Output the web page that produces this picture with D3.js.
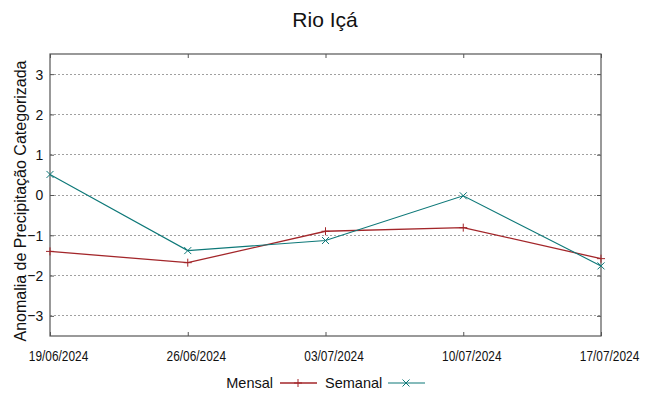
<!DOCTYPE html>
<html><head><meta charset="utf-8">
<script src="https://cdn.jsdelivr.net/npm/d3@7"></script>
<style>body{margin:0;background:#fff}svg{display:block;font-family:"Liberation Sans",Arial,sans-serif}</style>
</head><body><svg id="c" width="649" height="396"></svg>
<script>
const dates = ["19/06/2024","26/06/2024","03/07/2024","10/07/2024","17/07/2024"];
const mensal = [-1.40,-1.68,-0.90,-0.81,-1.58];
const semanal = [0.51,-1.38,-1.13,-0.02,-1.76];
const yTicks = [-3,-2,-1,0,1,2,3];

const svg = d3.select("#c");
const L=50,R=601,T=54,B=336;
const x = d3.scalePoint().domain(dates).range([L,R]);
const y = d3.scaleLinear().domain([-3.5,3.5]).range([B,T]);

// grid
svg.append("g").selectAll("line").data(yTicks).join("line")
 .attr("x1",L).attr("x2",R).attr("y1",d=>y(d)).attr("y2",d=>y(d))
 .attr("stroke","#a0a0a0").attr("stroke-width",1).attr("stroke-dasharray","2,2").attr("shape-rendering","crispEdges");

// axes
const yAxL = svg.append("g").attr("transform",`translate(${L},0)`)
 .call(d3.axisLeft(y).tickValues(yTicks).tickSize(-4).tickPadding(7.5).tickFormat(d3.format("d")));
const yAxR = svg.append("g").attr("transform",`translate(${R},0)`)
 .call(d3.axisRight(y).tickValues(yTicks).tickSize(-4).tickFormat(""));
const xAxB = svg.append("g").attr("transform",`translate(0,${B})`)
 .call(d3.axisBottom(x).tickSize(-4).tickPadding(15));
const xAxT = svg.append("g").attr("transform",`translate(0,${T})`)
 .call(d3.axisTop(x).tickSize(-4).tickFormat(""));
[yAxL,yAxR,xAxB,xAxT].forEach(g=>{g.select(".domain").remove();g.selectAll("line").attr("stroke","#555");});
yAxL.selectAll("text").attr("font-size",15.5).attr("fill","#111").attr("font-family","Liberation Sans, Arial")
 .attr("transform","scale(0.9,1)");
xAxB.selectAll("text").attr("font-size",14.5).attr("fill","#111").attr("transform","translate(8,0) scale(0.82,1)").attr("font-family","Liberation Sans, Arial");

svg.append("rect").attr("x",L).attr("y",T).attr("width",R-L).attr("height",B-T)
 .attr("fill","none").attr("stroke","#555").attr("stroke-width",1.2);

const red="#a3262a", teal="#0d7878";
const line = d3.line().x((d,i)=>x(dates[i])).y(d=>y(d));
function plus(g,cx,cy,c){g.append("path").attr("d",`M${cx-4},${cy}H${cx+4}M${cx},${cy-4}V${cy+4}`).attr("stroke",c).attr("stroke-width",1);}
function cross(g,cx,cy,c){g.append("path").attr("d",`M${cx-3.5},${cy-3.5}L${cx+3.5},${cy+3.5}M${cx-3.5},${cy+3.5}L${cx+3.5},${cy-3.5}`).attr("stroke",c).attr("stroke-width",1);}

const gm = svg.append("g");
gm.append("path").datum(mensal).attr("d",line).attr("fill","none").attr("stroke",red).attr("stroke-width",1.3);
mensal.forEach((v,i)=>plus(gm,x(dates[i]),y(v),red));
const gs = svg.append("g");
gs.append("path").datum(semanal).attr("d",line).attr("fill","none").attr("stroke",teal).attr("stroke-width",1.1);
semanal.forEach((v,i)=>cross(gs,x(dates[i]),y(v),teal));

// title
svg.append("text").attr("x",325).attr("y",27).attr("text-anchor","middle").attr("font-size",21).attr("fill","#111").text("Rio Içá");
// y label
svg.append("text").attr("transform","translate(25.5,201) rotate(-90)").attr("text-anchor","middle").attr("font-size",16).attr("fill","#111").text("Anomalia de Precipitação Categorizada");

// legend
const ly=383;
svg.append("text").attr("x",273).attr("y",ly+5).attr("text-anchor","end").attr("font-size",14.5).attr("fill","#111").text("Mensal");
svg.append("line").attr("x1",280).attr("x2",317).attr("y1",ly).attr("y2",ly).attr("stroke",red).attr("stroke-width",1.3);
plus(svg,298,ly,red);
svg.append("text").attr("x",325).attr("y",ly+5).attr("text-anchor","start").attr("font-size",14.5).attr("fill","#111").text("Semanal");
svg.append("line").attr("x1",388).attr("x2",425).attr("y1",ly).attr("y2",ly).attr("stroke",teal).attr("stroke-width",1.1);
cross(svg,406,ly,teal);
</script></body></html>
